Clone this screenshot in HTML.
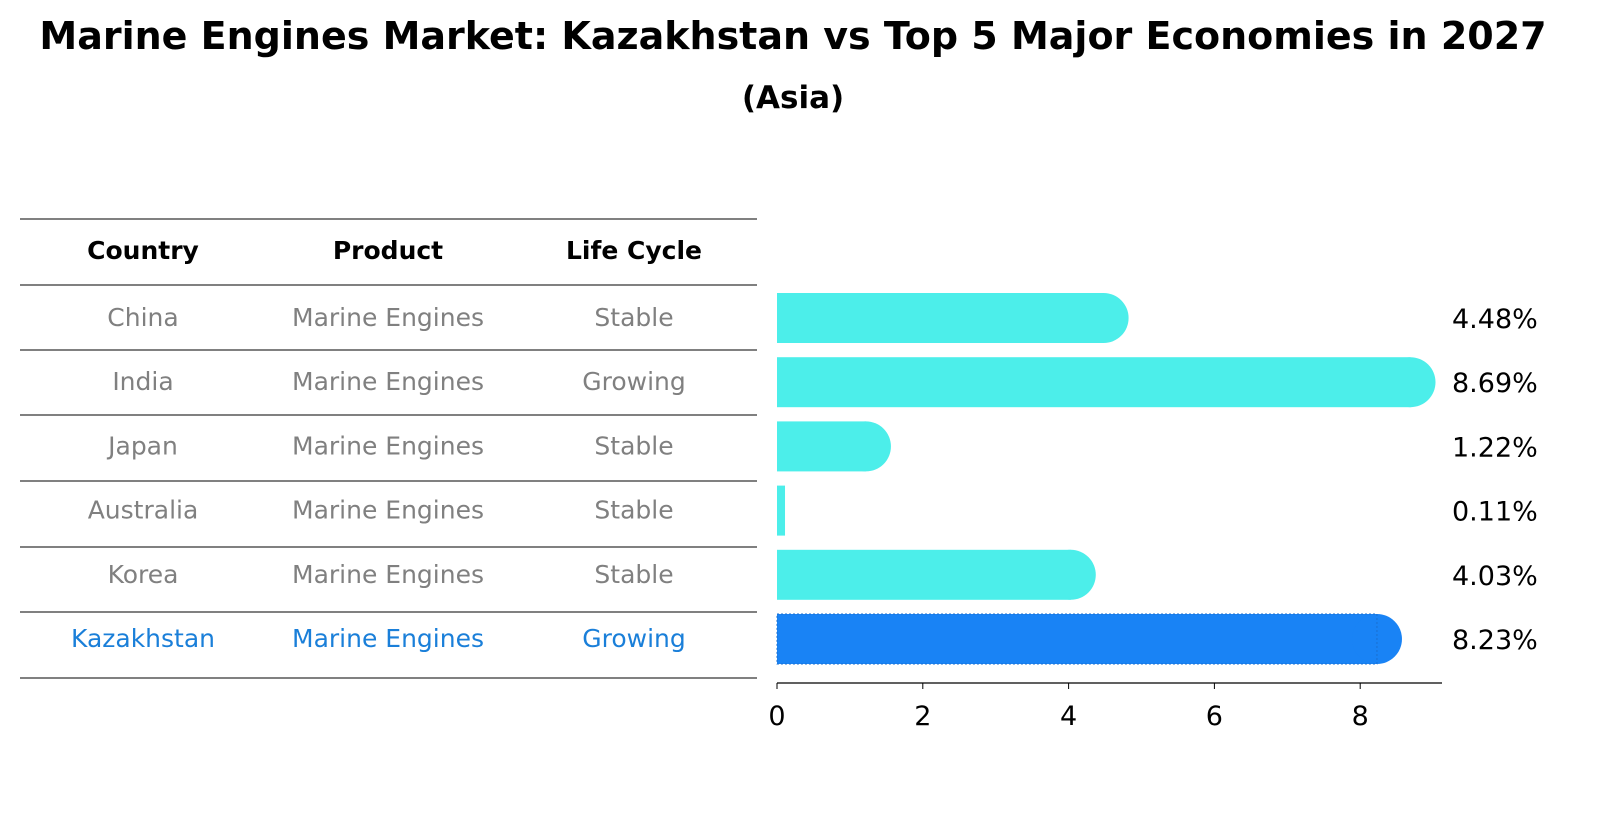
<!DOCTYPE html>
<html><head><meta charset="utf-8"><style>
html,body{margin:0;padding:0;width:1597px;height:823px;overflow:hidden;background:#fff;font-family:"Liberation Sans","DejaVu Sans",sans-serif;}
svg{display:block;}
</style></head><body>
<svg width="1597" height="823" viewBox="0 0 1597 823" xmlns="http://www.w3.org/2000/svg" style="font-family:'DejaVu Sans','Liberation Sans',sans-serif">
<text x="793" y="49" text-anchor="middle" font-size="38" font-weight="bold">Marine Engines Market: Kazakhstan vs Top 5 Major Economies in 2027</text>
<text x="793" y="108" text-anchor="middle" font-size="31" font-weight="bold">(Asia)</text>
<g id="table"></g>
<g id="bars"></g>
</svg>
<script>
const countries=["China","India","Japan","Australia","Korea","Kazakhstan"];
const products=["Marine Engines","Marine Engines","Marine Engines","Marine Engines","Marine Engines","Marine Engines"];
const lifecycles=["Stable","Growing","Stable","Stable","Stable","Growing"];
const values=[4.48,8.69,1.22,0.11,4.03,8.23];
const ticks=[0,2,4,6,8];
const NS="http://www.w3.org/2000/svg";
function mk(p,t,a,txt){const e=document.createElementNS(NS,t);for(const k in a)e.setAttribute(k,a[k]);if(txt!==undefined)e.textContent=txt;p.appendChild(e);return e;}
const tb=document.getElementById('table');
const lineYs=[219,285,350,415,481,547,612,678];
lineYs.forEach((y,i)=>{const l=mk(tb,'line',{x1:20,x2:757,y1:y,y2:y,stroke:'#000','stroke-width':1});

});
const colX=[143,388,634];
["Country","Product","Life Cycle"].forEach((h,i)=>{const t=mk(tb,'text',{x:colX[i],y:259,'text-anchor':'middle','font-size':25,'font-weight':'bold'},h);

});
const x0=777,sc=72.9;
const bx=v=>x0+v*sc;
const rowY=i=>318+i*64.2;
const bg=document.getElementById('bars');
countries.forEach((c,i)=>{
 const last=i===countries.length-1;const col=last?'#1a7fd9':'#808080';
 [c,products[i],lifecycles[i]].forEach((s,j)=>{const t=mk(tb,'text',{x:colX[j],y:rowY(i)+8,'text-anchor':'middle','font-size':25,fill:col},s);
 
 });
 const v=values[i],y=rowY(i),h=50,fill=last?'#1983f5':'#4ceeea';
 const g=mk(bg,'g',{});
 
 
 mk(g,'rect',{x:x0,y:y-h/2,width:bx(v)-x0,height:h,fill:fill});
 if(v>0.5)mk(g,'circle',{cx:bx(v),cy:y,r:h/2,fill:fill});
 if(last)mk(g,'rect',{x:x0,y:y-h/2,width:bx(v)-x0,height:h,fill:'none',stroke:'#1a6fd0','stroke-dasharray':'2,2','stroke-width':1});
 const t=mk(bg,'text',{x:1452,y:y+10,'font-size':27},v.toFixed(2)+'%');
 
 
});
const ax=mk(bg,'line',{x1:x0,x2:1442,y1:683,y2:683,stroke:'#000','stroke-width':1.2});


ticks.forEach(tv=>{mk(bg,'line',{x1:bx(tv),x2:bx(tv),y1:683,y2:689,stroke:'#000'});
 const t=mk(bg,'text',{x:bx(tv),y:725,'text-anchor':'middle','font-size':27},String(tv));
 
 });
</script>
</body></html>
